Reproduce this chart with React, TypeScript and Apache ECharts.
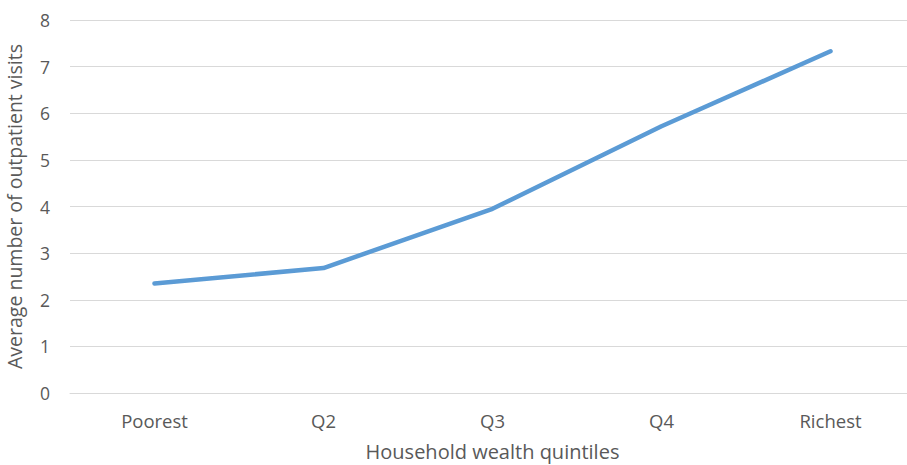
import React, { useEffect, useRef } from "react";
import * as echarts from "echarts";

const categories = ["Poorest", "Q2", "Q3", "Q4", "Richest"];
const visits = [2.35, 2.68, 3.95, 5.72, 7.33];
const yTicks = { min: 0, max: 8, interval: 1 };

export default function App() {
  const ref = useRef<HTMLDivElement>(null);
  useEffect(() => {
    if (!ref.current) return;
    const chart = echarts.init(ref.current, undefined, { renderer: "svg" });
    const font = "'Open Sans', 'Noto Sans', sans-serif";
    chart.setOption({
      animation: false,
      grid: {
        left: 70,
        right: -8,
        top: 20,
        bottom: 72,
        containLabel: false,
        outerBoundsMode: "none",
      },
      xAxis: {
        type: "category",
        data: categories,
        boundaryGap: true,
        axisLine: { show: true, lineStyle: { color: "#d9d9d9", width: 1 } },
        axisTick: { show: false },
        axisLabel: { color: "#595959", fontSize: 18.5, fontFamily: font, margin: 18 },
        name: "Household wealth quintiles",
        nameLocation: "middle",
        nameGap: 48,
        nameTextStyle: { color: "#595959", fontSize: 20, fontFamily: font },
      },
      yAxis: {
        type: "value",
        min: yTicks.min,
        max: yTicks.max,
        interval: yTicks.interval,
        axisLine: { show: false },
        axisTick: { show: false },
        splitLine: { lineStyle: { color: "#d9d9d9", width: 1 } },
        axisLabel: { color: "#595959", fontSize: 17.5, fontFamily: font, margin: 20 },
        name: "Average number of outpatient visits",
        nameLocation: "middle",
        nameGap: 46,
        nameTextStyle: { color: "#595959", fontSize: 19.5, fontFamily: font },
      },
      series: [
        {
          type: "line",
          data: visits,
          showSymbol: false,
          symbol: "none",
          lineStyle: { color: "#5b9bd5", width: 4.5, cap: "round", join: "round" },
        },
      ],
    });
    return () => chart.dispose();
  }, []);
  return (
    <div
      ref={ref}
      style={{ position: "fixed", left: 0, top: 0, width: 907, height: 465, background: "#fff", overflow: "hidden" }}
    />
  );
}
